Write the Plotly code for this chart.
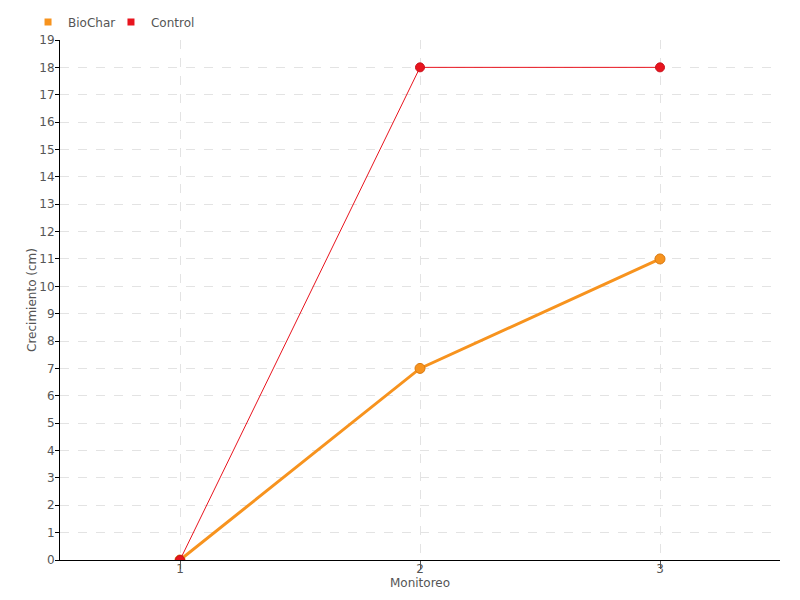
import plotly.graph_objects as go

monitoreo = [1, 2, 3]
biochar = [0, 7, 11]
control = [0, 18, 18]
y_ticks = list(range(0, 20))

FONT = "DejaVu Sans, sans-serif"
ORANGE = "#f7931e"
RED = "#e8141e"
GRAY = "#555555"

fig = go.Figure()
fig.add_trace(go.Scatter(
    x=monitoreo, y=biochar, mode="lines+markers", name="BioChar", showlegend=False,
    line=dict(color=ORANGE, width=3),
    marker=dict(size=10, color=ORANGE, line=dict(color="#d97a10", width=1)),
))
fig.add_trace(go.Scatter(
    x=monitoreo, y=control, mode="lines+markers", name="Control", showlegend=False,
    line=dict(color=RED, width=1),
    marker=dict(size=9, color=RED, line=dict(color="#c8101a", width=1)),
))
# legend entries with square markers
fig.add_trace(go.Scatter(x=[None], y=[None], mode="markers", name="BioChar", legend="legend",
                         marker=dict(symbol="square", size=7, color=ORANGE)))
fig.add_trace(go.Scatter(x=[None], y=[None], mode="markers", name="Control", legend="legend2",
                         marker=dict(symbol="square", size=7, color=RED)))

fig.update_layout(
    width=800, height=600,
    margin=dict(l=52, r=28, t=32, b=48, autoexpand=False),
    paper_bgcolor="white", plot_bgcolor="white",
    font=dict(family=FONT, size=12, color=GRAY),
    legend=dict(orientation="h", x=-0.0444, y=1.0346, xanchor="left", yanchor="middle",
                font=dict(size=12, color=GRAY), itemwidth=30, bgcolor="rgba(0,0,0,0)"),
    legend2=dict(orientation="h", x=0.0708, y=1.0346, xanchor="left", yanchor="middle",
                 font=dict(size=12, color=GRAY), itemwidth=30, bgcolor="rgba(0,0,0,0)"),
    showlegend=True,
)
fig.update_xaxes(
    range=[0.5, 3.5], tickmode="array", tickvals=monitoreo, ticktext=[str(v) for v in monitoreo],
    showline=True, linecolor="black", linewidth=1, automargin=False,
    ticks="outside", ticklen=8, tickcolor=GRAY, ticklabelstandoff=-10,
    showgrid=True, gridcolor="#e3e3e3", griddash="dash", zeroline=False,
    title=dict(text="Monitoreo", standoff=0, font=dict(size=12, color=GRAY)),
    tickfont=dict(size=12, color=GRAY),
)
fig.update_yaxes(
    range=[0, 19], tickmode="array", tickvals=y_ticks,
    showline=True, linecolor="black", linewidth=1, automargin=False,
    ticks="outside", ticklen=4, tickcolor="black", ticklabelstandoff=-2,
    showgrid=True, gridcolor="#e3e3e3", griddash="dash", zeroline=False,
    title=dict(text="Crecimiento (cm)", standoff=0, font=dict(size=12, color=GRAY)),
    tickfont=dict(size=12, color=GRAY),
)
fig.write_html("out.html")
